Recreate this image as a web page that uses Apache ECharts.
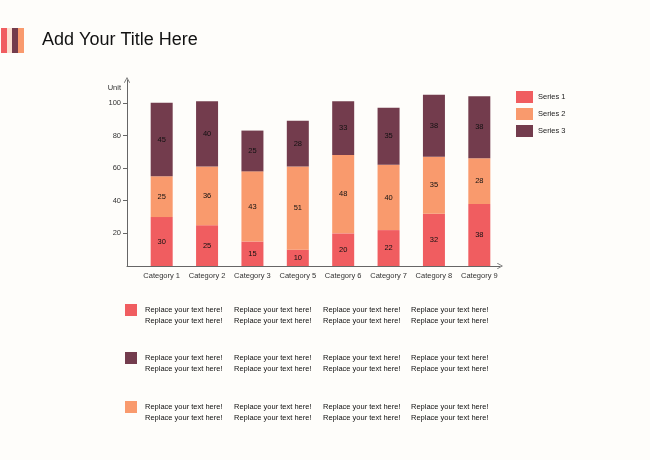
<!DOCTYPE html>
<html>
<head>
<meta charset="utf-8">
<script src="https://cdn.jsdelivr.net/npm/echarts@6/dist/echarts.min.js"></script>
<style>
html,body{margin:0;padding:0;background:#FEFDFA;}
#chart{width:650px;height:460px;}
</style>
</head>
<body>
<div id="chart"></div>
<script>
var categories = ['Category 1','Category 2','Category 3','Category 5','Category 6','Category 7','Category 8','Category 9'];
var series1 = [30,25,15,10,20,22,32,38];
var series2 = [25,36,43,51,48,40,35,28];
var series3 = [45,40,25,28,33,35,38,38];
var seriesNames = ['Series 1','Series 2','Series 3'];
var yTicks = [20,40,60,80,100];
var titleText = 'Add Your Title Here';
var noteText = 'Replace your text here!';

var C1 = '#F05D60', C2 = '#F99A6D', C3 = '#733C4D', CL = '#FBE1D2';
var FONT = '"Liberation Sans", Arial, sans-serif';
var chevron = 'path://M5,0L10,9L9,10L5,2.4L1,10L0,9Z';

var graphics = [
  {type:'rect', shape:{x:1,y:28,width:6,height:25}, style:{fill:C1}},
  {type:'rect', shape:{x:7,y:28,width:5,height:25}, style:{fill:CL}},
  {type:'rect', shape:{x:12,y:28,width:6,height:25}, style:{fill:C3}},
  {type:'rect', shape:{x:18,y:28,width:6,height:25}, style:{fill:C2}}
];
var noteColors = [C1, C3, C2];
var noteTops = [304, 352, 401];
var noteCols = [145, 234, 323, 411];
noteColors.forEach(function(col, r){
  graphics.push({type:'rect', shape:{x:125,y:noteTops[r],width:12,height:12}, style:{fill:col}});
  noteCols.forEach(function(x){
    [6,16.5].forEach(function(dy){
      graphics.push({type:'text', x:x, y:noteTops[r]+dy,
        style:{text:noteText, fill:'#111', fontSize:7.5, fontFamily:FONT, textVerticalAlign:'middle', textAlign:'left'}});
    });
  });
});

var chart = echarts.init(document.getElementById('chart'));
var labelCfg = {show:true, position:'inside', color:'#111', fontSize:7.5, fontFamily:FONT};
chart.setOption({
  backgroundColor:'#FEFDFA',
  animation:false,
  title:{text:titleText, left:37, top:26, textStyle:{fontSize:18, fontWeight:'normal', color:'#111', fontFamily:FONT}},
  legend:{orient:'vertical', left:511, top:86, itemWidth:17, itemHeight:12, itemGap:5, icon:'rect',
    textStyle:{fontSize:7.5, color:'#222', fontFamily:FONT}, data:seriesNames},
  grid:[
    {left:139, right:148, top:80, bottom:194},
    {left:127, right:150, top:80, bottom:194}
  ],
  xAxis:[
    {type:'category', gridIndex:0, data:categories,
      axisLine:{show:false}, axisTick:{show:false},
      axisLabel:{fontSize:7.5, color:'#333', margin:6, fontFamily:FONT, interval:0}},
    {type:'value', gridIndex:1, min:0, max:1,
      axisLine:{show:true, symbol:['none', chevron], symbolSize:[7,6], lineStyle:{color:'#666', width:1}},
      axisTick:{show:false}, axisLabel:{show:false}, splitLine:{show:false}}
  ],
  yAxis:[
    {type:'value', gridIndex:0, min:0, max:114, show:false, splitLine:{show:false}},
    {type:'value', gridIndex:1, min:0, max:114,
      name:'Unit', nameLocation:'end', nameGap:-8,
      nameTextStyle:{align:'right', verticalAlign:'middle', padding:[0,6,0,0], fontSize:7.5, color:'#333', fontFamily:FONT},
      axisLine:{show:true, symbol:['none', chevron], symbolSize:[7,6], lineStyle:{color:'#666', width:1}},
      axisTick:{show:true, length:4, customValues:yTicks, lineStyle:{color:'#666'}},
      axisLabel:{customValues:yTicks, fontSize:7.5, color:'#333', margin:6, fontFamily:FONT},
      splitLine:{show:false}}
  ],
  series:[
    {name:seriesNames[0], type:'bar', stack:'t', xAxisIndex:0, yAxisIndex:0, barWidth:22, data:series1, itemStyle:{color:C1}, label:labelCfg},
    {name:seriesNames[1], type:'bar', stack:'t', xAxisIndex:0, yAxisIndex:0, barWidth:22, data:series2, itemStyle:{color:C2}, label:labelCfg},
    {name:seriesNames[2], type:'bar', stack:'t', xAxisIndex:0, yAxisIndex:0, barWidth:22, data:series3, itemStyle:{color:C3}, label:labelCfg}
  ],
  graphic:graphics
});
</script>
</body>
</html>
